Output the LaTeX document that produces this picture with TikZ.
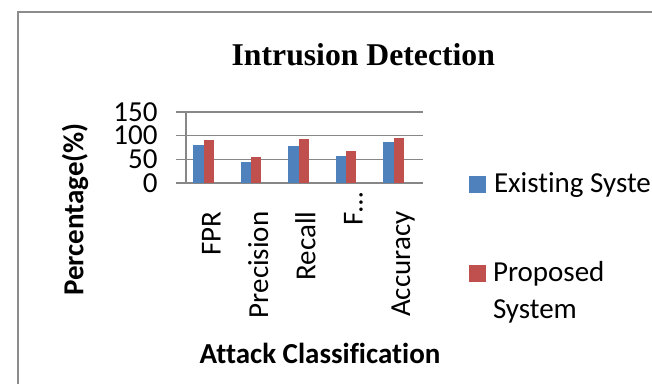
\documentclass[tikz,border=0pt]{standalone}
\usepackage{fontspec}
\setmainfont{Liberation Serif}
\newfontfamily\carl[Ligatures=NoCommon]{Carlito}
\definecolor{exblue}{HTML}{4F81BD}
\definecolor{prred}{HTML}{C0504D}
\definecolor{gridgray}{HTML}{878787}
\definecolor{framegray}{HTML}{8C8C8C}
\begin{document}
\begin{tikzpicture}[x=1pt,y=-1pt,
  txt/.style={inner sep=0pt,outer sep=0pt,font=\carl\fontsize{29}{35.5}\selectfont},
  ticklabel/.style={txt,text height=18.3pt,text depth=0pt,anchor=east},
  btxt/.style={txt,font=\carl\bfseries\fontsize{29}{35.5}\selectfont},
  gridline/.style={draw=gridgray,line width=1.6pt},
  exbar/.style={fill=exblue,draw=none},
  prbar/.style={fill=prred,draw=none},
  catlabel/.style={txt,rotate=90,anchor=base east}]
\useasboundingbox (0,0) rectangle (652,383);
\fill[white] (0,0) rectangle (652,383);
% frame
\draw[framegray,line width=2pt] (18,384) -- (18,11.5) -- (653,11.5);
% title
\node[inner sep=0pt,anchor=base,font=\bfseries\fontsize{31.7}{38}\selectfont] (title) at (363.3,65) {Intrusion Detection};
% gridlines
\foreach \v/\n in {0/g0,50/g50,100/g100,150/g150}{
  \coordinate (\n l) at (176,{183-0.474*\v});
  \coordinate (\n r) at (423,{183-0.474*\v});
  \draw[gridline] (\n l) -- (\n r);
  \node[ticklabel] (lab\n) at (157.5,{183-0.474*\v}) {\v};
}
\coordinate (axb) at (185.7,183);
\coordinate (axt) at (185.7,111.9);
\draw[gridline] (axb) -- (axt);
% bars
\foreach \i/\a/\b in {0/80/90.5,1/45/55,2/78/92,3/56/68,4/86.5/95}{
  \pgfmathsetmacro{\c}{203.5+47.5*\i}
  \fill[exbar] ({\c-10.2},183) rectangle (\c,{183-0.474*\a});
  \fill[prbar] (\c,183) rectangle ({\c+10.4},{183-0.474*\b});
}
% category labels
\node[catlabel] (cFPR) at (220.5,211.5) {FPR};
\node[catlabel] (cPrec) at (268,211.5) {Precision};
\node[catlabel] (cRec) at (315.3,211.5) {Recall};
\node[catlabel] (cF) at (362.5,192) {F…};
\node[catlabel] (cAcc) at (410,211.5) {Accuracy};
% axis titles
\node[btxt,rotate=90,anchor=base] (ytitle) at (83.3,209.5) {Percentage(\%)};
\node[btxt,anchor=base] (xtitle) at (320,363.3) {Attack Classification};
% legend
\fill[exblue] (469.3,176) rectangle (485.9,192.7);
\node[txt,anchor=base west] (lex) at (494,192.7) {Existing Syste};
\fill[prred] (469.3,265) rectangle (485.9,281.7);
\node[txt,anchor=base west] (lpr) at (493,281.7) {Proposed};
\node[txt,anchor=base west] (lpr2) at (493,318.3) {System};
\end{tikzpicture}
\end{document}
